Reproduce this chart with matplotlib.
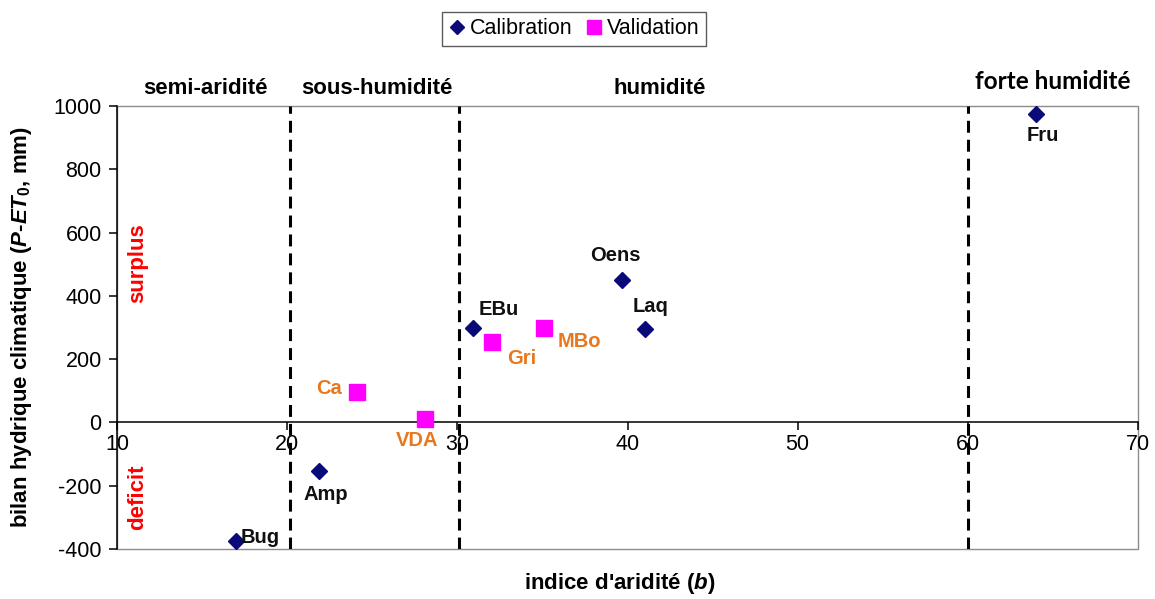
import matplotlib
matplotlib.use("Agg")
import matplotlib.pyplot as plt
from matplotlib.lines import Line2D
from matplotlib.patches import Rectangle

plt.rcParams['font.family'] = ['Liberation Sans', 'DejaVu Sans']
plt.rcParams['axes.unicode_minus'] = False
plt.rcParams['mathtext.fontset'] = 'custom'
plt.rcParams['mathtext.it'] = 'Liberation Sans:italic:bold'
plt.rcParams['mathtext.rm'] = 'Liberation Sans:bold'
plt.rcParams['mathtext.bf'] = 'Liberation Sans:bold'

# Calibration stations
cal_names = ["Bug", "Amp", "EBu", "Oens", "Laq", "Fru"]
cal_b = [17.0, 21.9, 30.9, 39.7, 41.0, 64.0]
cal_bal = [-375, -155, 298, 450, 295, 975]

# Validation stations
val_names = ["Ca", "VDA", "Gri", "MBo"]
val_b = [24.1, 28.1, 32.05, 35.1]
val_bal = [95, 10, 255, 300]

# Climate zone boundaries and labels
zone_limits = [20.15, 30.1, 60.0]
zone_labels = ["semi-aridité", "sous-humidité", "humidité", "forte humidité"]
zone_label_x = [15.2, 25.25, 41.9, 65.0]

x_ticks = [10, 20, 30, 40, 50, 60, 70]
y_ticks = [-400, -200, 0, 200, 400, 600, 800, 1000]

# label offsets in pixels (dx, dy)
cal_offsets = [(24, 4), (6, -23), (26, 19), (-7, 25), (6, 23), (7, -22)]
val_offsets = [(-28, 4), (-8, -21), (29, -17), (35, -14)]

NAVY = "#0a0a78"
MAGENTA = "#ff00ff"
ORANGE = "#e8771e"

fig = plt.figure(figsize=(11.55, 5.99), dpi=100)
ax = fig.add_axes([117 / 1155, 1 - 549 / 599, (1138 - 117) / 1155, (549 - 106) / 599])
ax.set_xlim(10, 70)
ax.set_ylim(-400, 1000)

# plot-area frame (grey) and axes (black)
for s in ["top", "right"]:
    ax.spines[s].set_visible(False)
ax.add_patch(Rectangle((0, 0), 1, 1, transform=ax.transAxes, fill=False,
                       edgecolor="#8c8c8c", lw=1.0, zorder=0.5, clip_on=False))
ax.spines["bottom"].set_position(("data", 0))
ax.spines["bottom"].set_color("black")
ax.spines["bottom"].set_linewidth(1.1)
ax.spines["left"].set_color("black")
ax.spines["left"].set_linewidth(1.1)
ax.spines["bottom"].set_zorder(2)

ax.set_xticks(x_ticks)
ax.set_yticks(y_ticks)
ax.tick_params(axis="x", direction="out", length=6, width=1.1, labelsize=15.5, pad=2)
ax.tick_params(axis="y", direction="out", length=6, width=1.1, labelsize=15.5, pad=5)

# zone boundaries
for xv in zone_limits:
    ax.axvline(xv, color="black", lw=2.2, dashes=(3.9, 2.3), zorder=1)

trans = ax.get_xaxis_transform()
for lbl, xv in zip(zone_labels, zone_label_x):
    if lbl == "forte humidité":
        ax.text(xv, 1.055, lbl, transform=trans, ha="center", va="center",
                fontsize=17.5, fontweight="bold", family=["Lato", "DejaVu Sans"])
    else:
        ax.text(xv, 1.04, lbl, transform=trans, ha="center", va="center",
                fontsize=16, fontweight="bold")

# data
ax.plot(cal_b, cal_bal, linestyle="none", marker="D", markersize=8.5,
        color=NAVY, zorder=3, clip_on=False)
ax.plot(val_b, val_bal, linestyle="none", marker="s", markersize=12,
        color=MAGENTA, zorder=3, clip_on=False)

for name, xv, yv, (dx, dy) in zip(cal_names, cal_b, cal_bal, cal_offsets):
    ax.annotate(name, (xv, yv), xytext=(dx, dy), textcoords="offset pixels",
                ha="center", va="center", fontsize=14.5, fontweight="bold",
                color="#111111", zorder=4)
for name, xv, yv, (dx, dy) in zip(val_names, val_b, val_bal, val_offsets):
    ax.annotate(name, (xv, yv), xytext=(dx, dy), textcoords="offset pixels",
                ha="center", va="center", fontsize=14.5, fontweight="bold",
                color=ORANGE, zorder=4)

ax.text(11.2, 503, "surplus", rotation=90, ha="center", va="center",
        fontsize=16, fontweight="bold", color="red")
ax.text(11.2, -237, "deficit", rotation=90, ha="center", va="center",
        fontsize=16, fontweight="bold", color="red")

ax.set_ylabel(r"bilan hydrique climatique ($P$-$ET_{\mathit{0}}$, mm)", fontsize=16,
              fontweight="bold", va="center")
ax.yaxis.set_label_coords((22 - 117) / 1021, 0.5)
ax.set_xlabel("indice d'aridité ($b$)", fontsize=16, fontweight="bold",
              va="center")
ax.xaxis.set_label_coords((620 - 117) / 1021, (549 - 584) / 443)

handles = [
    Line2D([], [], linestyle="none", marker="D", markersize=7.5, color=NAVY),
    Line2D([], [], linestyle="none", marker="s", markersize=10, color=MAGENTA),
]
leg = fig.legend(handles, ["Calibration", "Validation"], loc="center",
                 bbox_to_anchor=(574 / 1155, 1 - 29 / 599), ncol=2,
                 fontsize=15.5, frameon=True, fancybox=False, handlelength=0.8,
                 handletextpad=0.2, columnspacing=0.6, borderpad=0.3,
                 borderaxespad=0)
leg.get_frame().set_edgecolor("#333333")
leg.get_frame().set_linewidth(1.0)

fig.savefig("out.png", dpi=100)
